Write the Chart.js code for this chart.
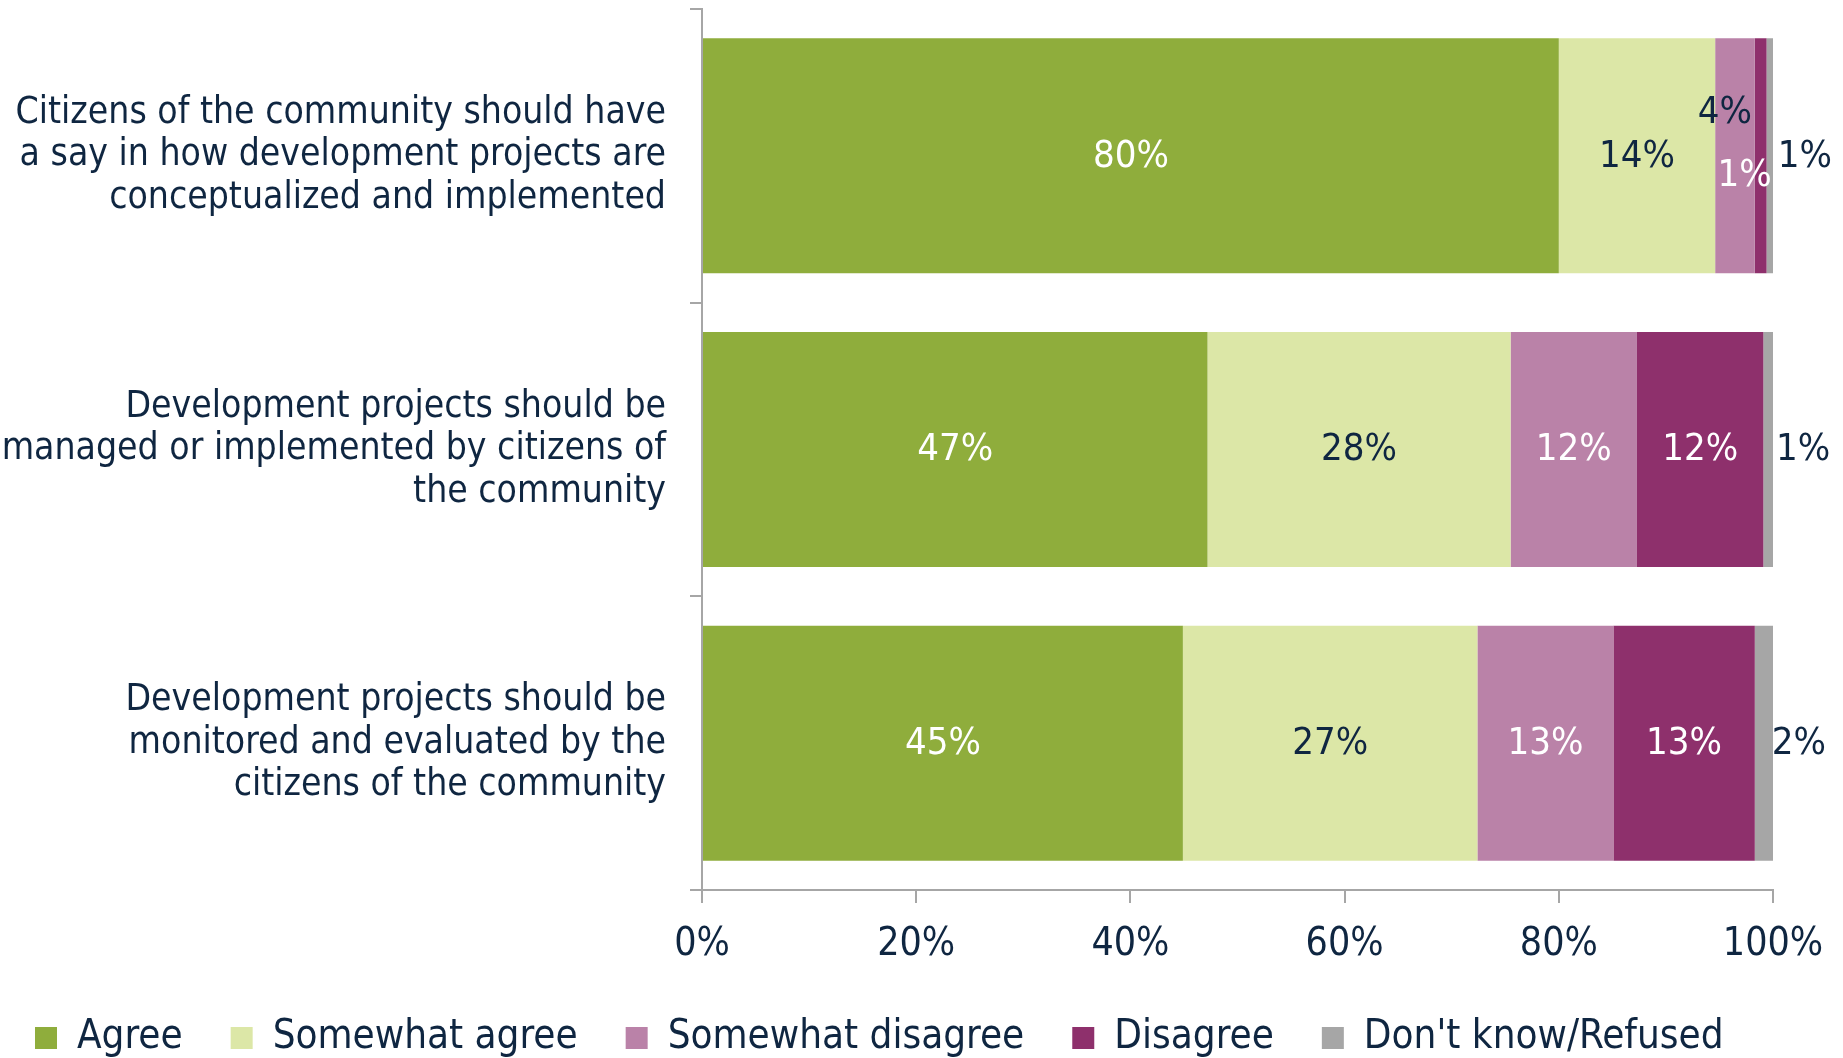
<!DOCTYPE html>
<html>
<head>
<meta charset="utf-8">
<script src="https://cdn.jsdelivr.net/npm/chart.js@4.4.0/dist/chart.umd.min.js"></script>
<style>
  html, body { margin: 0; padding: 0; background: #fff; }
  #wrap { width: 1843px; height: 1058px; }
</style>
</head>
<body>
<div id="wrap"><canvas id="communityChart"></canvas></div>
<script>
// statements (y axis), one array per line
const statements = [
  ['Citizens of the community should have', 'a say in how development projects are', 'conceptualized and implemented'],
  ['Development projects should be', 'managed or implemented by citizens of', 'the community'],
  ['Development projects should be', 'monitored and evaluated by the', 'citizens of the community']
];
const seriesNames = ['Agree', 'Somewhat agree', 'Somewhat disagree', 'Disagree', "Don't know/Refused"];

// shares in %
const agree = [80.0, 47.2, 44.9];
const somewhatAgree = [14.6, 28.3, 27.5];
const somewhatDisagree = [3.7, 11.8, 12.7];
const disagree = [1.1, 11.8, 13.2];
const dontKnow = [0.6, 0.9, 1.7];

// rounded figures printed on the chart
const agreeText = ['80%', '47%', '45%'];
const somewhatAgreeText = ['14%', '28%', '27%'];
const somewhatDisagreeText = ['4%', '12%', '13%'];
const disagreeText = ['1%', '12%', '13%'];
const dontKnowText = ['1%', '1%', '2%'];

const xTicks = [0, 20, 40, 60, 80, 100];

const textColor = '#0F2641';
const axisColor = '#A6A6A6';
const labelFamily = "'DejaVu Sans Condensed', 'DejaVu Sans', sans-serif";
const numberFamily = "'DejaVu Sans Condensed', 'DejaVu Sans', sans-serif";

// draws the value labels on/next to each segment
const barLabels = {
  id: 'barLabels',
  afterDatasetsDraw(chart) {
    const ctx = chart.ctx;
    ctx.save();
    ctx.font = '38px ' + numberFamily;
    ctx.textAlign = 'center';
    ctx.textBaseline = 'middle';
    chart.data.datasets.forEach((ds, i) => {
      chart.getDatasetMeta(i).data.forEach((bar, j) => {
        let x = (bar.x + bar.base) / 2 + (ds.labelShift || 0);
        let y = bar.y;
        let color = ds.labelColor;
        const nudge = ds.labelNudge && ds.labelNudge[j];
        if (nudge) {
          x += nudge[0];
          y += nudge[1];
          color = ds.nudgeColor || color;
        }
        ctx.fillStyle = color;
        ctx.fillText(ds.shownText[j], x, y + 1);
      });
    });
    ctx.restore();
  }
};

new Chart(document.getElementById('communityChart'), {
  type: 'bar',
  data: {
    labels: statements,
    datasets: [
      { label: seriesNames[0], data: agree, backgroundColor: '#8FAD3C', shownText: agreeText, labelColor: '#FFFFFF' },
      { label: seriesNames[1], data: somewhatAgree, backgroundColor: '#DCE7A7', shownText: somewhatAgreeText, labelColor: textColor },
      { label: seriesNames[2], data: somewhatDisagree, backgroundColor: '#BA82A8', shownText: somewhatDisagreeText, labelColor: '#FFFFFF',
        labelNudge: [[-10, -44]], nudgeColor: textColor },
      { label: seriesNames[3], data: disagree, backgroundColor: '#8E306C', shownText: disagreeText, labelColor: '#FFFFFF',
        labelNudge: [[-16, 19]] },
      { label: seriesNames[4], data: dontKnow, backgroundColor: '#A6A6A6', shownText: dontKnowText, labelColor: textColor,
        labelShift: 35 }
    ]
  },
  options: {
    indexAxis: 'y',
    responsive: true,
    maintainAspectRatio: false,
    animation: false,
    datasets: { bar: { categoryPercentage: 0.8, barPercentage: 1.0, borderWidth: 0 } },
    layout: { padding: { top: 9, right: 70, bottom: -10, left: -13 } },
    scales: {
      x: {
        stacked: true,
        min: 0,
        max: 100,
        afterBuildTicks: axis => { axis.ticks = xTicks.map(v => ({ value: v })); },
        afterFit: scale => { scale.height = 80; },
        grid: { drawOnChartArea: false, tickLength: 13, color: axisColor, lineWidth: 2 },
        border: { color: axisColor, width: 2 },
        ticks: { color: textColor, font: { family: numberFamily, size: 39 }, padding: 18, callback: v => v + '%' }
      },
      y: {
        stacked: true,
        offset: true,
        afterFit: scale => { scale.width = 715; scale.paddingTop = 0; scale.paddingBottom = 0; },
        grid: { offset: true, drawOnChartArea: false, tickLength: 12, color: axisColor, lineWidth: 2 },
        border: { color: axisColor, width: 2 },
        ticks: { color: textColor, font: { family: labelFamily, size: 37, lineHeight: 1.15 }, padding: 24 }
      }
    },
    plugins: {
      tooltip: { enabled: false },
      legend: {
        position: 'bottom',
        align: 'start',
        labels: {
          color: textColor,
          font: { family: labelFamily, size: 40 },
          boxWidth: 22,
          boxHeight: 22,
          padding: 48
        }
      }
    }
  },
  plugins: [barLabels]
});
</script>
</body>
</html>
